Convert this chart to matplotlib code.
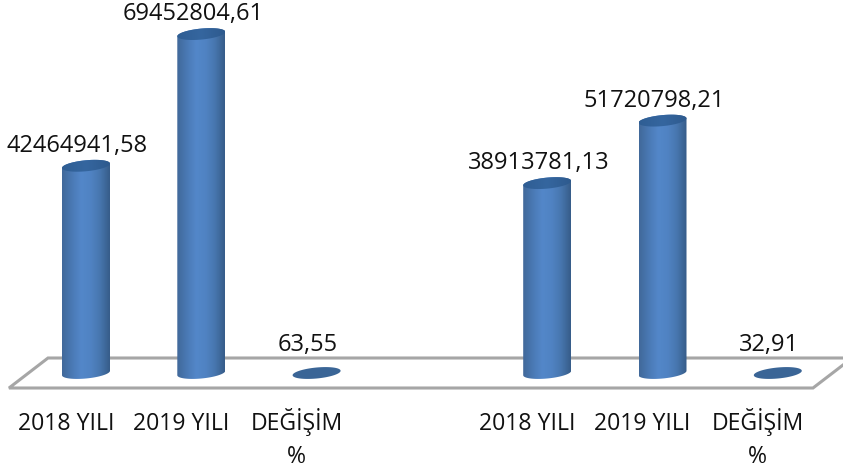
import numpy as np
import matplotlib.pyplot as plt
from matplotlib.colors import LinearSegmentedColormap
from matplotlib.patches import Polygon

labels = ['2018 YILI', '2019 YILI', 'DEĞİŞİM\n%', '2018 YILI', '2019 YILI', 'DEĞİŞİM\n%']
positions = [0, 1, 2, 4, 5, 6]
values = [42464941.58, 69452804.61, 63.55, 38913781.13, 51720798.21, 32.91]
value_text = ['42464941,58', '69452804,61', '63,55', '38913781,13', '51720798,21', '32,91']

W, H = 843, 473
plt.rcParams['font.family'] = ['Open Sans', 'DejaVu Sans']

fig = plt.figure(figsize=(W / 100, H / 100), dpi=100)
# axes stops at the front edge of the floor, tick labels hang under it
ax = fig.add_axes([0, 1 - 392 / H, 1, 392 / H])
ax.set_axis_off()

px_per_val = 4.88e-6
px_per_cat = 115.3
base_y = 373
x0 = 86
half_w = 24 / px_per_cat
ell_h = 5.5 / px_per_val
tilt = 2.2 / px_per_val

body_cmap = LinearSegmentedColormap.from_list(
    'body', ['#41699a', '#4a79b4', '#5387c9', '#5083c3', '#4776ae', '#375d8a'])
top_cmap = LinearSegmentedColormap.from_list('top', ['#2f5e94', '#35669f', '#2e5a8e'])
t = np.linspace(0, 2 * np.pi, 100)


def ellipse(cx, cy):
    return np.column_stack([cx + half_w * np.cos(t), cy + ell_h * np.sin(t) + tilt * np.cos(t)])


def draw_cylinder(x, v):
    grad = np.linspace(0, 1, 64).reshape(1, -1)
    # front half of the bottom rim, then up to the top rim
    tt = np.linspace(np.pi, 2 * np.pi, 50)
    low = np.column_stack([x + half_w * np.cos(tt), ell_h * np.sin(tt) + tilt * np.cos(tt)])
    tt2 = np.linspace(0, np.pi, 50)
    up = np.column_stack([x + half_w * np.cos(tt2), v + ell_h * np.sin(tt2) + tilt * np.cos(tt2)])
    poly = Polygon(np.vstack([low, up]), closed=True, fc='none', ec='none', transform=ax.transData)
    ax.add_patch(poly)
    im = ax.imshow(grad, cmap=body_cmap, aspect='auto', zorder=3,
                   extent=[x - half_w, x + half_w, -ell_h * 2, v + ell_h * 2])
    im.set_clip_path(poly)
    cap = Polygon(ellipse(x, v), closed=True, fc='none', ec='none', transform=ax.transData)
    ax.add_patch(cap)
    im2 = ax.imshow(grad, cmap=top_cmap, aspect='auto', zorder=4,
                    extent=[x - half_w, x + half_w, v - ell_h * 2, v + ell_h * 2])
    im2.set_clip_path(cap)


# floor, drawn in figure pixels
floor_x = [843, 48, 9, 813, 843]
floor_y = [358, 358, 388, 388, 365]
ax.plot(np.array(floor_x) / W, 1 - (np.array(floor_y)) / 392, transform=ax.transAxes,
        color='#a6a6a6', lw=2.2, solid_joinstyle='miter', clip_on=False, zorder=1)

for p, v, s in zip(positions, values, value_text):
    if v > 1000:
        draw_cylinder(p, v)
        off = 14
    else:
        ax.fill(*ellipse(p, v).T, color='#3a6596', lw=0, zorder=3)
        off = 22
    ax.annotate(s, (p, v), xytext=(-8.5 * 0.72, off * 0.72), textcoords='offset points',
                ha='center', va='baseline', fontsize=17, color='#111111', zorder=5)

ax.set_xlim(-x0 / px_per_cat, (W - x0) / px_per_cat)
ax.set_ylim((base_y - 392) / px_per_val, base_y / px_per_val)
ax.set_axis_on()
for sp in ax.spines.values():
    sp.set_visible(False)
ax.patch.set_visible(False)
ax.set_yticks([])
# va baseline sits on the last line, so one-line labels get an empty second line
tick_text = [s if '\n' in s else s + '\n ' for s in labels]
ax.set_xticks([p - 20 / px_per_cat for p in positions], tick_text)
ax.tick_params(axis='x', length=0, pad=51, labelsize=16.6, labelcolor='#111111')
for lab in ax.get_xticklabels():
    lab.set_linespacing(1.48)
    lab.set_verticalalignment('baseline')

fig.savefig('out.png', dpi=100)
